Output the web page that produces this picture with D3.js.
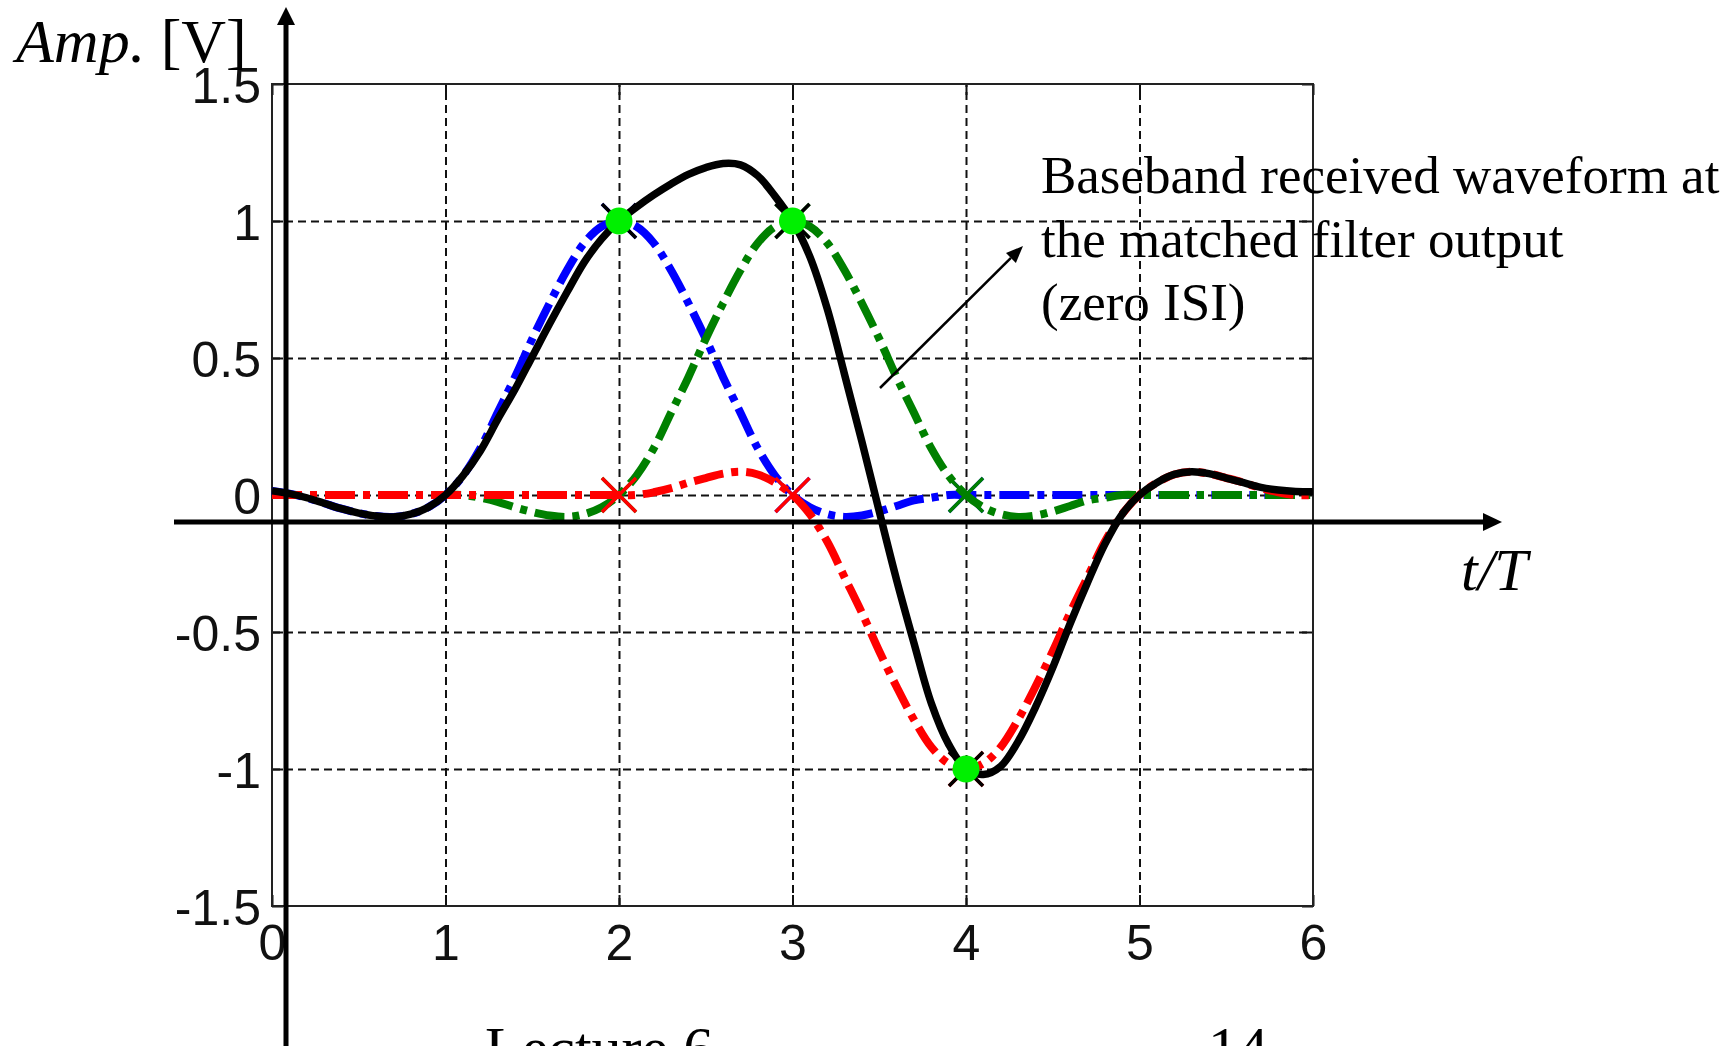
<!DOCTYPE html>
<html>
<head>
<meta charset="utf-8">
<script src="https://cdn.jsdelivr.net/npm/d3@7"></script>
<style>
  html, body { margin: 0; padding: 0; background: #fff; overflow: hidden; }
  svg { display: block; }
</style>
</head>
<body>
<svg id="chart" width="1735" height="1046"></svg>
<script>
// Sample instants, t/T
const tSamples = [
  0.0, 0.1, 0.2, 0.3, 0.4, 0.5, 0.6, 0.7, 0.8, 0.9,
  1.0, 1.1, 1.2, 1.3, 1.4, 1.5, 1.6, 1.7, 1.8, 1.9,
  2.0, 2.1, 2.2, 2.3, 2.4, 2.5, 2.6, 2.7, 2.8, 2.9,
  3.0, 3.1, 3.2, 3.3, 3.4, 3.5, 3.6, 3.7, 3.8, 3.9,
  4.0, 4.1, 4.2, 4.3, 4.4, 4.5, 4.6, 4.7, 4.8, 4.9,
  5.0, 5.1, 5.2, 5.3, 5.4, 5.5, 5.6, 5.7, 5.8, 5.9, 6.0
];

// Pulse of the first symbol (+1), peaking at t = 2T
const pulseSym1 = [
  0.015, 0.005, -0.01, -0.03, -0.05, -0.066, -0.077, -0.08, -0.07, -0.045,
  0.00, 0.07, 0.17, 0.30, 0.43, 0.57, 0.70, 0.82, 0.92, 0.98,
  1.00, 0.98, 0.92, 0.82, 0.70, 0.57, 0.43, 0.30, 0.17, 0.07,
  0.00, -0.045, -0.07, -0.08, -0.075, -0.06, -0.04, -0.02, -0.01, 0.00,
  0.00, 0.00, 0.00, 0.00, 0.00, 0.00, 0.00, 0.00, 0.00, 0.00,
  0.00, 0.00, 0.00, 0.00, 0.00, 0.00, 0.00, 0.00, 0.00, 0.00, 0.00
];

// Pulse of the second symbol (+1), peaking at t = 3T
const pulseSym2 = [
  0.00, 0.00, 0.00, 0.00, 0.00, 0.00, 0.00, 0.00, 0.00, 0.00,
  0.00, 0.00, -0.01, -0.025, -0.045, -0.062, -0.075, -0.08, -0.07, -0.045,
  0.00, 0.07, 0.17, 0.30, 0.43, 0.57, 0.70, 0.82, 0.92, 0.98,
  1.00, 0.98, 0.92, 0.82, 0.70, 0.57, 0.43, 0.30, 0.17, 0.07,
  0.00, -0.045, -0.07, -0.08, -0.075, -0.06, -0.04, -0.02, -0.01, 0.00,
  0.00, 0.00, 0.00, 0.00, 0.00, 0.00, 0.00, 0.00, 0.00, 0.00, 0.00
];

// Pulse of the third symbol (-1), reaching -1 at t = 4T
const pulseSym3 = [
  0.00, 0.00, 0.00, 0.00, 0.00, 0.00, 0.00, 0.00, 0.00, 0.00,
  0.00, 0.00, 0.00, 0.00, 0.00, 0.00, 0.00, 0.00, 0.00, 0.00,
  0.00, 0.00, 0.01, 0.025, 0.045, 0.062, 0.078, 0.085, 0.075, 0.045,
  0.00, -0.07, -0.17, -0.30, -0.43, -0.57, -0.70, -0.82, -0.92, -0.98,
  -1.00, -0.98, -0.92, -0.82, -0.70, -0.57, -0.43, -0.30, -0.17, -0.07,
  0.00, 0.045, 0.075, 0.085, 0.078, 0.062, 0.045, 0.025, 0.01, 0.00, 0.00
];

// Received waveform at the matched filter output
const receivedWave = [
  0.015, 0.005, -0.01, -0.03, -0.05, -0.066, -0.077, -0.08, -0.07, -0.045,
  0.00, 0.07, 0.16, 0.275, 0.385, 0.505, 0.625, 0.74, 0.85, 0.935,
  1.00, 1.05, 1.095, 1.135, 1.17, 1.195, 1.21, 1.205, 1.165, 1.09,
  1.00, 0.87, 0.68, 0.44, 0.195, -0.06, -0.31, -0.54, -0.76, -0.91,
  -1.00, -1.02, -0.99, -0.90, -0.775, -0.63, -0.47, -0.32, -0.18, -0.07,
  0.00, 0.045, 0.075, 0.085, 0.078, 0.062, 0.045, 0.028, 0.018, 0.013, 0.012
];

// Symbol sampling instants
const sampleTimes = [2, 3, 4];

const xTicks = [0, 1, 2, 3, 4, 5, 6];
const xTickLabels = ["0", "1", "2", "3", "4", "5", "6"];
const yTicks = [1.5, 1, 0.5, 0, -0.5, -1, -1.5];
const yTickLabels = ["1.5", "1", "0.5", "0", "-0.5", "-1", "-1.5"];

const noteLines = ["Baseband received waveform at", "the matched filter output", "(zero ISI)"];

// ---------------------------------------------------------------
const svg = d3.select("#chart");
const box = { left: 272, right: 1313, top: 84, bottom: 906 };
const x = d3.scaleLinear().domain([0, 6]).range([box.left, box.right]);
const y = d3.scaleLinear().domain([-1.5, 1.5]).range([box.bottom, box.top]);

const sansFont = "'Liberation Sans', Arial, sans-serif";
const serifFont = "'Liberation Serif', 'Times New Roman', serif";

// dashed grid
const gridX = svg.append("g")
  .attr("transform", `translate(0,${box.bottom})`)
  .call(d3.axisBottom(x).tickValues(xTicks.slice(1, -1)).tickSize(-(box.bottom - box.top)).tickFormat(""));
const gridY = svg.append("g")
  .attr("transform", `translate(${box.left},0)`)
  .call(d3.axisLeft(y).tickValues(yTicks.slice(1, -1)).tickSize(-(box.right - box.left)).tickFormat(""));
[gridX, gridY].forEach(g => {
  g.select(".domain").remove();
  g.selectAll("line").attr("stroke", "#111").attr("stroke-width", 2).attr("stroke-dasharray", "8,5");
});

// inward tick marks on all four sides
const tickLen = 11;
const tickAxes = [
  [d3.axisBottom(x).tickValues(xTicks), `translate(0,${box.bottom})`],
  [d3.axisTop(x).tickValues(xTicks), `translate(0,${box.top})`],
  [d3.axisLeft(y).tickValues(yTicks), `translate(${box.left},0)`],
  [d3.axisRight(y).tickValues(yTicks), `translate(${box.right},0)`]
];
tickAxes.forEach(([ax, tr]) => {
  const g = svg.append("g").attr("transform", tr).call(ax.tickSize(-tickLen).tickFormat(""));
  g.select(".domain").remove();
  g.selectAll("line").attr("stroke", "#111").attr("stroke-width", 2);
});

// plot frame
svg.append("rect")
  .attr("x", box.left).attr("y", box.top)
  .attr("width", box.right - box.left).attr("height", box.bottom - box.top)
  .attr("fill", "none").attr("stroke", "#222").attr("stroke-width", 2);

// tick labels
const xLab = svg.append("g")
  .attr("transform", `translate(0,${box.bottom})`)
  .call(d3.axisBottom(x).tickValues(xTicks).tickSize(0).tickPadding(18.5)
        .tickFormat((d, i) => xTickLabels[i]));
const yLab = svg.append("g")
  .attr("transform", `translate(${box.left},0)`)
  .call(d3.axisLeft(y).tickValues(yTicks).tickSize(0).tickPadding(11)
        .tickFormat((d, i) => yTickLabels[i]));
[xLab, yLab].forEach(g => {
  g.select(".domain").remove();
  g.attr("font-family", sansFont).attr("font-size", 50);
  g.selectAll("text").attr("fill", "#111");
});
yLab.selectAll("text").attr("dy", "0.36em");

// curves
const line = d3.line()
  .x((d, i) => x(tSamples[i]))
  .y(d => y(d))
  .curve(d3.curveCatmullRom.alpha(0.5));

const pulses = [
  { values: pulseSym1, color: "#0000ff" },
  { values: pulseSym2, color: "#008000" },
  { values: pulseSym3, color: "#ff0000" }
];

const crossHalf = 17;
function crossPath(cx, cy, h) {
  return `M${cx - h},${cy - h}L${cx + h},${cy + h}M${cx - h},${cy + h}L${cx + h},${cy - h}`;
}
const sampleIndex = t => tSamples.findIndex(v => Math.abs(v - t) < 1e-9);

pulses.forEach(p => {
  svg.append("path")
    .attr("d", line(p.values))
    .attr("fill", "none")
    .attr("stroke", p.color)
    .attr("stroke-width", 8)
    .attr("stroke-dasharray", "30,8,7,8");
  sampleTimes.forEach(t => {
    const v = p.values[sampleIndex(t)];
    svg.append("path")
      .attr("d", crossPath(x(t), y(v), crossHalf))
      .attr("stroke", p.color).attr("stroke-width", 3.5).attr("fill", "none");
  });
});

svg.append("path")
  .attr("d", line(receivedWave))
  .attr("fill", "none")
  .attr("stroke", "#000")
  .attr("stroke-width", 7.5)
  .attr("stroke-linejoin", "round");

sampleTimes.forEach(t => {
  const v = receivedWave[sampleIndex(t)];
  svg.append("path")
    .attr("d", crossPath(x(t), y(v), crossHalf))
    .attr("stroke", "#000").attr("stroke-width", 3.5).attr("fill", "none");
});
sampleTimes.forEach(t => {
  const v = receivedWave[sampleIndex(t)];
  svg.append("circle")
    .attr("cx", x(t)).attr("cy", y(v)).attr("r", 13.5)
    .attr("fill", "#00f000");
});

// slide overlay axes with arrow heads
const axisX0 = 286, axisY0 = 522;
svg.append("line")
  .attr("x1", axisX0).attr("y1", 1046).attr("x2", axisX0).attr("y2", 22)
  .attr("stroke", "#000").attr("stroke-width", 5);
svg.append("path")
  .attr("d", `M${axisX0},7L${axisX0 - 9},25L${axisX0 + 9},25Z`).attr("fill", "#000");
svg.append("line")
  .attr("x1", 174).attr("y1", axisY0).attr("x2", 1486).attr("y2", axisY0)
  .attr("stroke", "#000").attr("stroke-width", 5);
svg.append("path")
  .attr("d", `M1502,${axisY0}L1483,${axisY0 - 9}L1483,${axisY0 + 9}Z`).attr("fill", "#000");

// axis titles
const ampLabel = svg.append("text")
  .attr("x", 16).attr("y", 62)
  .attr("font-family", serifFont).attr("font-size", 62).attr("fill", "#000");
ampLabel.append("tspan").attr("font-style", "italic").text("Amp.");
ampLabel.append("tspan").text(" [V]");

svg.append("text")
  .attr("x", 1461).attr("y", 590)
  .attr("font-family", serifFont).attr("font-size", 60).attr("font-style", "italic")
  .attr("fill", "#000").text("t/T");

// annotation
const ax1 = 880, ay1 = 388, ax2 = 1023, ay2 = 246;
const ang = Math.atan2(ay2 - ay1, ax2 - ax1);
const headL = 17, headW = 7;
const bx = ax2 - headL * Math.cos(ang), by = ay2 - headL * Math.sin(ang);
svg.append("line")
  .attr("x1", ax1).attr("y1", ay1).attr("x2", bx).attr("y2", by)
  .attr("stroke", "#000").attr("stroke-width", 2.5);
svg.append("path")
  .attr("d", `M${ax2},${ay2}L${bx - headW * Math.sin(ang)},${by + headW * Math.cos(ang)}L${bx + headW * Math.sin(ang)},${by - headW * Math.cos(ang)}Z`)
  .attr("fill", "#000");

const note = svg.append("text")
  .attr("font-family", serifFont).attr("font-size", 53).attr("fill", "#000");
noteLines.forEach((s, i) => {
  note.append("tspan").attr("x", 1041).attr("y", 193 + i * 63.5).text(s);
});

// slide footer
svg.append("text")
  .attr("x", 485).attr("y", 1068)
  .attr("font-family", serifFont).attr("font-size", 60).attr("fill", "#000")
  .text("Lecture 6");
svg.append("text")
  .attr("x", 1208).attr("y", 1068)
  .attr("font-family", serifFont).attr("font-size", 60).attr("fill", "#000")
  .text("14");
</script>
</body>
</html>
